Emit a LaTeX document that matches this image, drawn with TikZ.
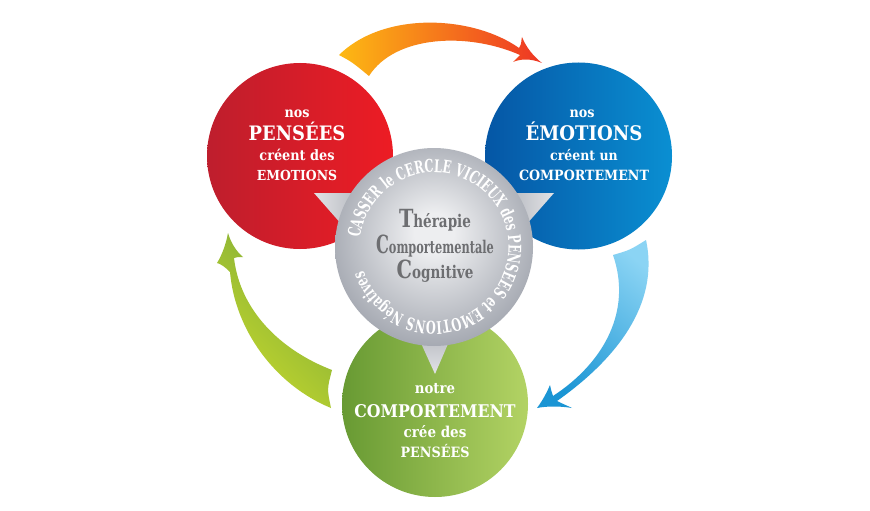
\documentclass[tikz,border=0pt]{standalone}
\usepackage{fontspec}
\setmainfont{DejaVu Serif Condensed}
\newfontfamily\circfont{DejaVu Serif Condensed}[FakeStretch=0.72]
\usetikzlibrary{decorations.text}
\definecolor{redA}{HTML}{BE1E2D}
\definecolor{redB}{HTML}{ED1C24}
\definecolor{bluA}{HTML}{0556A5}
\definecolor{bluB}{HTML}{0A8FD2}
\definecolor{grnA}{HTML}{689A33}
\definecolor{grnB}{HTML}{B3D364}
\definecolor{gryA}{HTML}{EDEEF0}
\definecolor{gryB}{HTML}{A2A6AF}
\definecolor{ptrA}{HTML}{E2E3E6}
\definecolor{ptrB}{HTML}{B4B7BE}
\definecolor{txtG}{HTML}{6D6E71}
\definecolor{orA}{HTML}{FDB913}
\definecolor{orB}{HTML}{F7941D}
\definecolor{orC}{HTML}{EE3524}
\definecolor{cyA}{HTML}{1B95D4}
\definecolor{cyB}{HTML}{8BD4F4}
\definecolor{lmA}{HTML}{C6D92C}
\definecolor{lmB}{HTML}{7DAA3A}
\pgfdeclareradialshading{grayball}{\pgfpoint{0bp}{4bp}}{color(0bp)=(gryA); color(5bp)=(gryA); color(28bp)=(gryB); color(50bp)=(gryB)}
\newcommand\fsz[1]{\fontsize{#1}{#1}\selectfont}
\tikzset{
  bigcirc/.style={circle, minimum size=#1, inner sep=0pt},
  wt/.style={text=white, font=\bfseries, anchor=base, inner sep=0pt},
  gt/.style={text=txtG, font=\bfseries, anchor=base, inner sep=0pt},
}
\begin{document}
\begin{tikzpicture}[x=1pt,y=1pt]
\fill[white] (0,0) rectangle (870,-511);
\useasboundingbox (0,0) rectangle (870,-511);

% ---- arrows ----
% top: red -> blue
\shade[left color=orA, middle color=orB, right color=orC]
  (339,-55) .. controls (385,-10) and (474,-16) .. (519,-48)
  .. controls (522,-44) and (521,-40) .. (522,-37)
  .. controls (526,-47) and (533,-56) .. (542,-63)
  .. controls (530,-58) and (520,-59) .. (513,-62)
  .. controls (516,-59) and (518,-57) .. (520,-55)
  .. controls (468,-32) and (395,-35) .. (369,-76)
  .. controls (352,-62) .. (339,-55) -- cycle;
% right: blue -> green
\shade[bottom color=cyA, top color=cyB, shading angle=-40]
  (613,-255) .. controls (630,-250) .. (646,-240)
  .. controls (660,-305) and (615,-360) .. (557,-401)
  .. controls (563,-404) and (568,-406) .. (572,-408)
  .. controls (560,-406) and (547,-406) .. (537,-408)
  .. controls (543,-400) and (547,-392) .. (550,-385)
  .. controls (551,-390) and (552,-393) .. (553,-396)
  .. controls (605,-362) and (632,-310) .. (613,-255) -- cycle;
% left: green -> red
\shade[bottom color=lmA, top color=lmB, shading angle=-45]
  (332,-370) .. controls (327,-389) .. (331,-408)
  .. controls (275,-385) and (235,-330) .. (230,-272)
  .. controls (225,-267) and (221,-264) .. (217,-263)
  .. controls (222,-255) and (226,-244) .. (228,-233)
  .. controls (231,-243) and (236,-251) .. (243,-257)
  .. controls (239,-257) and (236,-257) .. (234,-258)
  .. controls (240,-310) and (280,-350) .. (332,-370) -- cycle;

% ---- three circles ----
\node[bigcirc=186pt, left color=redA, right color=redB] (pens) at (300,-156) {};
\node[bigcirc=187pt, left color=bluA, right color=bluB] (emo) at (578.5,-156) {};
\node[bigcirc=186pt, left color=grnA, right color=grnB] (comp) at (435,-404) {};

% ---- pointers of the central disc ----
\shade[left color=ptrA, right color=ptrB] (314,-193) -- (362,-193) -- (350,-234) -- cycle;
\shade[left color=ptrB, right color=ptrA] (554,-193) -- (506,-193) -- (518,-234) -- cycle;
\shade[top color=ptrB, bottom color=ptrA] (415,-330) -- (454,-330) -- (435,-374) -- cycle;

% ---- central disc ----
\node[bigcirc=198pt, shade, shading=grayball] (tcc) at (434,-247) {};
\path[decorate, decoration={text along path, text color=white,
   text={|\circfont\bfseries\fsz{17.5}|CASSER le CERCLE VICIEUX des PENSEES et EMOTIONS Négatives},
   text align={fit to path}}]
  (tcc.center) ++(173:74.5) arc[start angle=173, end angle=-159, radius=74.5];

\node[gt] (t1) at (435,-227) {\scalebox{0.86}[1]{\fsz{25}T\fsz{17.5}hérapie}};
\node[gt] (t2) at (435,-253) {\scalebox{0.72}[1]{\fsz{25}C\fsz{17.5}omportementale}};
\node[gt] (t3) at (435,-278) {\scalebox{0.86}[1]{\fsz{25}C\fsz{17.5}ognitive}};

% ---- texts in the circles ----
\node[wt] (p1) at (297,-117) {\fsz{14.2}nos};
\node[wt] (p2) at (297,-140.5) {\fsz{19.9}PENSÉES};
\node[wt] (p3) at (297,-160.5) {\fsz{14.3}créent des};
\node[wt] (p4) at (297,-180.5) {\fsz{13.8}EMOTIONS};

\node[wt] (e1) at (582,-117) {\fsz{14.2}nos};
\node[wt] (e2) at (584,-140.5) {\fsz{20.1}ÉMOTIONS};
\node[wt] (e3) at (584,-160.5) {\fsz{13.9}créent un};
\node[wt] (e4) at (584,-180.5) {\fsz{14.1}COMPORTEMENT};

\node[wt] (c1) at (435,-393.5) {\fsz{14.8}notre};
\node[wt] (c2) at (435,-417) {\fsz{17.5}COMPORTEMENT};
\node[wt] (c3) at (435,-437) {\fsz{15}crée des};
\node[wt] (c4) at (435,-457) {\fsz{14.2}PENSÉES};
\end{tikzpicture}
\end{document}
